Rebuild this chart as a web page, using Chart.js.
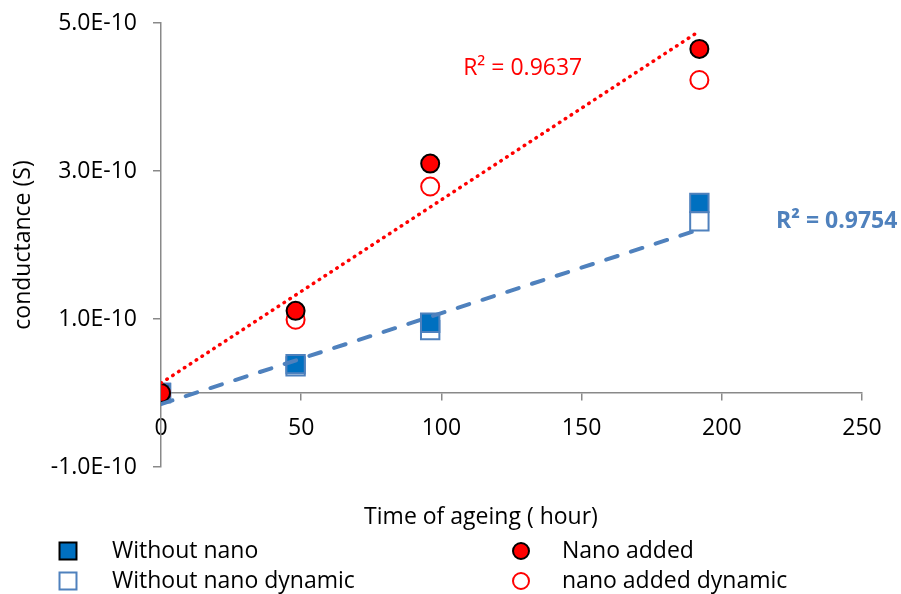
<!DOCTYPE html>
<html>
<head>
<meta charset="utf-8">
<title>Conductance vs ageing time</title>
<script src="https://cdn.jsdelivr.net/npm/chart.js@4.4.1/dist/chart.umd.min.js"></script>
<style>
  html, body { margin: 0; padding: 0; background: #fff; }
  #wrap { width: 901px; height: 594px; }
</style>
</head>
<body>
<div id="wrap"><canvas id="conductanceChart" width="901" height="594"></canvas></div>
<script>
// ageing time (hours)
const hours = [0, 48, 96, 192];

// conductance, in units of 1E-10 S
const withoutNano = [0, 0.39, 0.95, 2.57];
const withoutNanoDynamic = [0, 0.36, 0.85, 2.32];
const nanoAdded = [0, 1.11, 3.10, 4.65];
const nanoAddedDynamic = [0, 0.99, 2.79, 4.23];

const yTicks = [-1, 1, 3, 5];
const xTicks = [0, 50, 100, 150, 200, 250];

const seriesNames = ["Without nano", "Without nano dynamic", "Nano added", "nano added dynamic"];
const fitLabels = ["R\u00b2 = 0.9637", "R\u00b2 = 0.9754"];

const FONT = "'Open Sans', sans-serif";
const BLUE = "#0070C0";
const BLUE_LINE = "#4F81BD";
const RED = "#FF0000";
const AXIS = "#898989";

const toPoints = (xs, ys) => xs.map((x, i) => ({ x: x, y: ys[i] }));

// least squares line over the data range (Excel-style linear trendline)
function trendline(xs, ys) {
  const n = xs.length;
  const mx = xs.reduce((a, b) => a + b, 0) / n;
  const my = ys.reduce((a, b) => a + b, 0) / n;
  let sxy = 0, sxx = 0;
  for (let i = 0; i < n; i++) {
    sxy += (xs[i] - mx) * (ys[i] - my);
    sxx += (xs[i] - mx) * (xs[i] - mx);
  }
  const slope = sxy / sxx;
  const icept = my - slope * mx;
  const x0 = Math.min(...xs), x1 = Math.max(...xs);
  return [{ x: x0, y: icept + slope * x0 }, { x: x1, y: icept + slope * x1 }];
}

// R² text and the x-axis title are drawn straight onto the canvas
const annotations = {
  id: "annotations",
  afterDraw(chart) {
    const { ctx, scales } = chart;
    const sx = scales.x, sy = scales.y;
    ctx.save();
    ctx.textAlign = "center";
    ctx.textBaseline = "middle";

    ctx.font = "23px " + FONT;
    ctx.fillStyle = RED;
    ctx.fillText(fitLabels[0], sx.getPixelForValue(129), sy.getPixelForValue(4.39));

    ctx.font = "bold 23px " + FONT;
    ctx.fillStyle = BLUE_LINE;
    ctx.fillText(fitLabels[1], sx.getPixelForValue(241), sy.getPixelForValue(2.32));

    ctx.font = "23px " + FONT;
    ctx.fillStyle = "#000";
    ctx.fillText("Time of ageing ( hour)", 481, 517);
    ctx.restore();
  }
};

// two-column legend under the plot
const bottomLegend = {
  id: "bottomLegend",
  afterDraw(chart) {
    const { ctx } = chart;
    const items = [
      { text: seriesNames[0], x: 68, y: 551, style: "rect", r: 12, fill: BLUE, stroke: "#000" },
      { text: seriesNames[1], x: 68, y: 581, style: "rect", r: 12, fill: "#fff", stroke: BLUE_LINE },
      { text: seriesNames[2], x: 521, y: 551, style: "circle", r: 8, fill: RED, stroke: "#000" },
      { text: seriesNames[3], x: 521, y: 581, style: "circle", r: 8, fill: "#fff", stroke: RED }
    ];
    ctx.save();
    ctx.font = "23px " + FONT;
    ctx.textBaseline = "middle";
    ctx.textAlign = "left";
    items.forEach((it) => {
      ctx.fillStyle = it.fill;
      ctx.strokeStyle = it.stroke;
      ctx.lineWidth = 2;
      Chart.helpers.drawPoint(ctx, { pointStyle: it.style, radius: it.r, rotation: 0, borderWidth: 2 }, it.x, it.y);
      ctx.fillStyle = "#000";
      ctx.fillText(it.text, it.x < 300 ? 112 : 562, it.y);
    });
    ctx.restore();
  }
};

const ctx = document.getElementById("conductanceChart").getContext("2d");

new Chart(ctx, {
  type: "scatter",
  data: {
    datasets: [
      {
        label: "Linear (Nano added)",
        data: trendline(hours, nanoAdded),
        showLine: true,
        borderColor: RED,
        borderWidth: 3.5,
        borderDash: [0.5, 6.5],
        borderCapStyle: "round",
        pointRadius: 0
      },
      {
        label: "Linear (Without nano dynamic)",
        data: trendline(hours, withoutNanoDynamic),
        showLine: true,
        borderColor: BLUE_LINE,
        borderWidth: 4,
        borderDash: [12, 14],
        borderCapStyle: "round",
        pointRadius: 0
      },
      {
        label: seriesNames[2],
        data: toPoints(hours, nanoAdded),
        pointStyle: "circle",
        pointRadius: 9,
        backgroundColor: RED,
        borderColor: "#000",
        borderWidth: 2
      },
      {
        label: seriesNames[3],
        data: toPoints(hours, nanoAddedDynamic),
        pointStyle: "circle",
        pointRadius: 9,
        backgroundColor: "#fff",
        borderColor: RED,
        borderWidth: 2
      },
      {
        label: seriesNames[0],
        data: toPoints(hours, withoutNano),
        pointStyle: "rect",
        pointRadius: 13,
        backgroundColor: BLUE,
        borderColor: BLUE_LINE,
        borderWidth: 2
      },
      {
        label: seriesNames[1],
        data: toPoints(hours, withoutNanoDynamic),
        pointStyle: "rect",
        pointRadius: 13,
        backgroundColor: "#fff",
        borderColor: BLUE_LINE,
        borderWidth: 2
      }
    ]
  },
  options: {
    responsive: false,
    animation: false,
    layout: { padding: { top: 23, right: 39, bottom: 127, left: 0 } },
    plugins: {
      legend: { display: false },
      tooltip: { enabled: false }
    },
    scales: {
      x: {
        type: "linear",
        position: { y: 0 },
        min: 0,
        max: 250,
        afterBuildTicks: (scale) => { scale.ticks = xTicks.map((v) => ({ value: v })); },
        grid: { drawOnChartArea: false, color: AXIS, tickLength: 7, lineWidth: 1.5 },
        border: { color: AXIS, width: 1.5 },
        ticks: { color: "#000", padding: 15, font: { family: FONT, size: 23 } }
      },
      y: {
        type: "linear",
        position: "left",
        min: -1,
        max: 5,
        afterBuildTicks: (scale) => { scale.ticks = yTicks.map((v) => ({ value: v })); },
        afterFit: (scale) => {
          scale.width = 161;
          // labels fit inside the layout padding, so no extra room above/below
          scale.paddingTop = 0;
          scale.paddingBottom = 0;
        },
        grid: { drawOnChartArea: false, color: AXIS, tickLength: 8, lineWidth: 1.5 },
        border: { color: AXIS, width: 1.5 },
        ticks: {
          color: "#000",
          padding: 16,
          font: { family: FONT, size: 23 },
          callback: (v) => v.toFixed(1) + "E-10"
        },
        title: {
          display: true,
          text: "conductance (S)",
          color: "#000",
          font: { family: FONT, size: 23 },
          padding: { top: 10, bottom: 0 }
        }
      }
    }
  },
  plugins: [annotations, bottomLegend]
});
</script>
</body>
</html>
